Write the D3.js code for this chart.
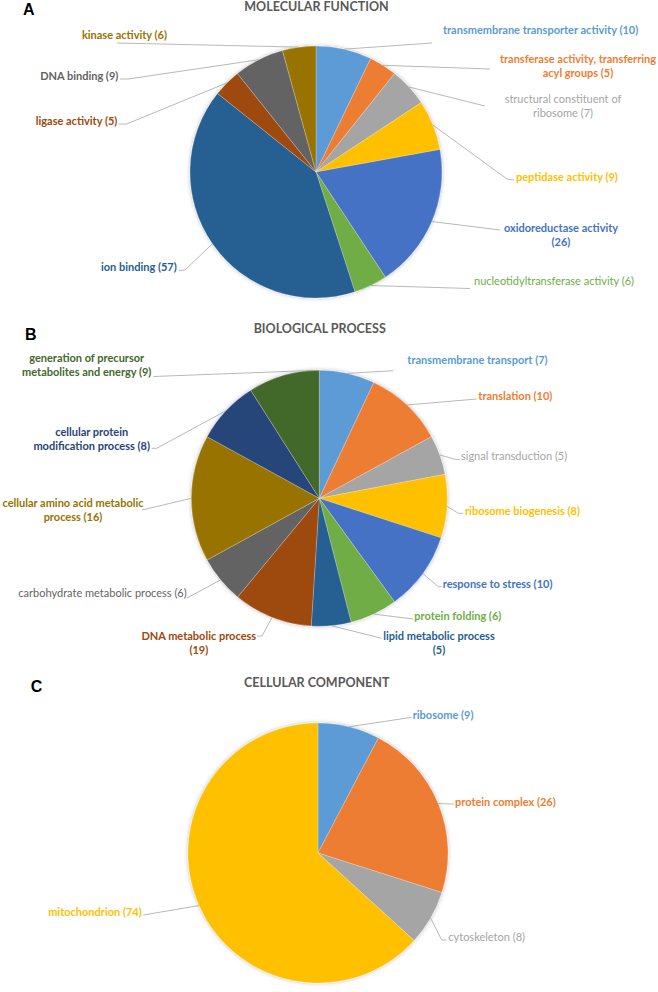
<!DOCTYPE html>
<html><head><meta charset="utf-8">
<script src="https://cdn.jsdelivr.net/npm/d3@7"></script>
<style>body{margin:0;background:#fff}svg{display:block}</style>
</head><body>
<script>
// ---- data ----
const mfNames = ["transmembrane transporter activity","transferase activity, transferring acyl groups","structural constituent of ribosome","peptidase activity","oxidoreductase activity","nucleotidyltransferase activity","ion binding","ligase activity","DNA binding","kinase activity"];
const mfCounts = [10,5,7,9,26,6,57,5,9,6];
const bpNames = ["transmembrane transport","translation","signal transduction","ribosome biogenesis","response to stress","protein folding","lipid metabolic process","DNA metabolic process","carbohydrate metabolic process","cellular amino acid metabolic process","cellular protein modification process","generation of precursor metabolites and energy"];
const bpCounts = [7,10,5,8,10,6,5,19,6,16,8,9];      // numbers printed in the labels
const bpSlices = [7,10,5,8,10,6,5,10,6,16,8,9];      // slice sizes as drawn in the picture
const ccNames = ["ribosome","protein complex","cytoskeleton","mitochondrion"];
const ccCounts = [9,26,8,74];
const titles = ["MOLECULAR FUNCTION","BIOLOGICAL PROCESS","CELLULAR COMPONENT"];
const letters = ["A","B","C"];
const officeColors = ["#5B9BD5","#ED7D31","#A5A5A5","#FFC000","#4472C4","#70AD47","#255E91","#9E480E","#636363","#997300","#264478","#43682B"];

// ---- layout ----
const W = 658, H = 992;
const panels = [
  {names: mfNames, counts: mfCounts, values: mfCounts, cx: 316, cy: 172, r: 126, ty: 6.5, tx: 316.5, lx: 23, ly: 9,
   labels: [
    {x:443, y:29.5, a:"start", lead:[[432,43]]},
    {x:578, y:58.3, a:"middle", brk:3, lead:[[490,69]]},
    {x:563, y:98.3, a:"middle", brk:3, lead:[[485,106]], w:400},
    {x:516, y:176, a:"start", lead:[[514,180],[507,179]]},
    {x:561, y:227.3, a:"middle", brk:2, lead:[[500,230]]},
    {x:474, y:280.7, a:"start", lead:[[470,288.5]], w:400},
    {x:176.7, y:266.7, a:"end", lead:[[179,270.5],[185,270]]},
    {x:117.3, y:120, a:"end", lead:[[118.5,124],[126.5,124]]},
    {x:118.3, y:75, a:"end", lead:[[120,79],[128,79]]},
    {x:167, y:34, a:"end", lead:[[117,43]]}
   ]},
  {names: bpNames, counts: bpCounts, values: bpSlices, cx: 319.3, cy: 498.3, r: 128, ty: 328.3, tx: 319.7, lx: 25, ly: 334.5,
   labels: [
    {x:407.3, y:359, a:"start", lead:[[393.3,370.7]]},
    {x:478.3, y:395, a:"start", lead:[[476.7,399]]},
    {x:461, y:455.7, a:"start", lead:[[460,459.3],[455,459.3]], w:400},
    {x:465, y:510, a:"start", lead:[[463.3,513.3],[458.3,513.3]]},
    {x:442.7, y:583.3, a:"start", lead:[[441.7,586.7],[438.3,586.7]]},
    {x:414.3, y:615.7, a:"start", lead:[[413.3,619]]},
    {x:439, y:635.7, a:"middle", brk:3, lead:[[381.7,638.3]]},
    {x:198.8, y:635.7, a:"middle", brk:3, lead:[[257,636],[262,636]]},
    {x:186.7, y:592.7, a:"end", lead:[[187,598]], w:400},
    {x:73, y:502.7, a:"middle", brk:4, lead:[[142,510]]},
    {x:91.7, y:431, a:"middle", brk:2, lead:[[151.7,448.3],[156.7,448.3]]},
    {x:86.7, y:357.7, a:"middle", brk:3, lead:[[153.3,376.5]], f:0.9}
   ]},
  {names: ccNames, counts: ccCounts, values: ccCounts, cx: 318, cy: 853, r: 130, ty: 682.7, tx: 316.7, lx: 30.7, ly: 686,
   labels: [
    {x:412.7, y:714, a:"start", lead:[[411.7,717.3]]},
    {x:455, y:801, a:"start", lead:[[454,804]]},
    {x:448.3, y:936.7, a:"start", lead:[[446.7,940],[441.7,940]], w:400},
    {x:141.7, y:911.7, a:"end", lead:[[143.3,915]]}
   ]}
];

const svg = d3.select("body").append("svg").attr("width", W).attr("height", H);
const defs = svg.append("defs");
const flt = defs.append("filter").attr("id","shadow").attr("x","-20%").attr("y","-20%").attr("width","140%").attr("height","140%");
flt.append("feDropShadow").attr("dx",0).attr("dy",0).attr("stdDeviation",2.2).attr("flood-color","#000").attr("flood-opacity",0.28);

const color = d3.scaleOrdinal().domain(d3.range(officeColors.length)).range(officeColors);
const labelFont = "Lato, 'Open Sans', sans-serif";

panels.forEach((p, pi) => {
  const g = svg.append("g");
  const data = p.names.map((n, i) => ({name: n, count: p.counts[i], v: p.values[i], i}));
  const arcs = d3.pie().sort(null).value(d => d.v)(data);
  const arc = d3.arc().innerRadius(0).outerRadius(p.r);

  // title and panel letter
  g.append("text").attr("x", p.tx).attr("y", p.ty).attr("text-anchor","middle").attr("dominant-baseline","central")
    .attr("font-family", labelFont).attr("font-weight",700).attr("font-size","12.5px").attr("fill","#595959")
    .text(titles[pi]);
  g.append("text").attr("x", p.lx).attr("y", p.ly).attr("dominant-baseline","central")
    .attr("font-family","'Liberation Sans', Arial, sans-serif").attr("font-weight",700).attr("font-size","16px").attr("fill","#000")
    .text(letters[pi]);

  // slices
  const pg = g.append("g").attr("transform", `translate(${p.cx},${p.cy})`).attr("filter","url(#shadow)");
  pg.selectAll("path").data(arcs).join("path")
    .attr("d", arc).attr("fill", d => color(d.data.i))
    .attr("stroke","#ffffff").attr("stroke-width",0.4).attr("stroke-opacity",0.6);

  // leader lines + labels
  arcs.forEach((a, k) => {
    const L = p.labels[k];
    const f = L.f ?? 0.5;
    const ang = a.startAngle + (a.endAngle - a.startAngle) * f;
    const rp = d3.pointRadial(ang, p.r);
    const pts = [...L.lead, [p.cx + rp[0], p.cy + rp[1]]];
    g.append("path").attr("d", d3.line()(pts)).attr("fill","none")
      .attr("stroke","#A6A6A6").attr("stroke-width",0.8);

    const words = `${a.data.name} (${a.data.count})`.split(" ");
    const lines = L.brk ? [words.slice(0, L.brk).join(" "), words.slice(L.brk).join(" ")] : [words.join(" ")];
    const t = g.append("text").attr("text-anchor", L.a)
      .attr("font-family", labelFont).attr("font-weight", L.w ?? 700).attr("font-size","11px")
      .attr("fill", color(a.data.i));
    lines.forEach((ln, j) => t.append("tspan").attr("x", L.x).attr("y", L.y + j * 14)
      .attr("dominant-baseline","central").text(ln));
  });
});
</script>
</body></html>
